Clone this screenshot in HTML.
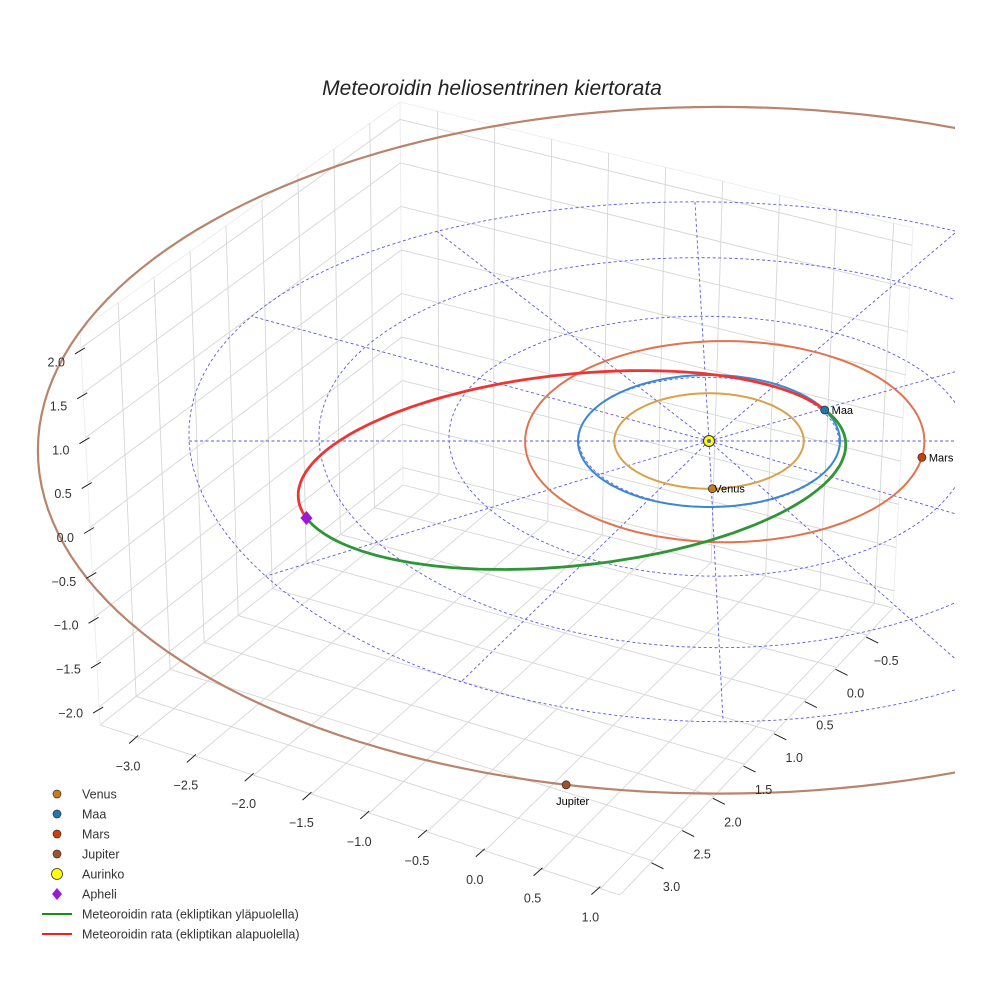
<!DOCTYPE html>
<html><head><meta charset="utf-8"><style>
html,body{margin:0;padding:0;background:#fff;}
svg{display:block;font-family:"Liberation Sans",sans-serif;}
</style></head><body>
<svg id="chart" width="984" height="984" viewBox="0 0 984 984" xmlns="http://www.w3.org/2000/svg">
<defs><clipPath id="axclip"><rect x="0" y="0" width="955" height="984"/></clipPath></defs>
<rect width="984" height="984" fill="#fff"/>
<text x="492" y="95" text-anchor="middle" font-size="21" font-style="italic" fill="#222">Meteoroidin heliosentrinen kiertorata</text>
<g id="box"></g>
<g id="plot" clip-path="url(#axclip)"></g>
<g id="labels"></g>
<g id="legend"></g>
</svg>
<script>
// ---- axis tick data ----
const xTicks=[-3.0,-2.5,-2.0,-1.5,-1.0,-0.5,0.0,0.5,1.0];
const yTicks=[-0.5,0.0,0.5,1.0,1.5,2.0,2.5,3.0];
const zTicks=[-2.0,-1.5,-1.0,-0.5,0.0,0.5,1.0,1.5,2.0];
const xRange=[-3.33,1.17], yRange=[-0.92,3.53], zRange=[-2.2,2.2];
// ---- planets ----
const planetNames=['Venus','Maa','Mars','Jupiter'];
const planetA=[0.723,1.0,1.524,5.203];
const planetCx=[0.0,0.0,0.12,0.08];
const planetCy=[0.0,0.0,0.01,0.14];
const planetAngle=[88,-28,9,103];
const planetColors=['#d9a24a','#3b87d4','#e0744e','#b8846b'];
const planetDot=['#c97a1c','#1f77b4','#c8400c','#a0522d'];
// ---- ecliptic reference grid ----
const gridRadii=[1,2,3,4];
const spokeAngles=[0,30,60,90,120,150,180,210,240,270,300,330];
const spokeLen=4;
// ---- meteoroid orbit ----
const meteorCenter=[-1.046,0.44];
const meteorAxes=[2.10,1.45];
const meteorTilt=[-6];
const meteorSplit=[-20,168];

const NS='http://www.w3.org/2000/svg';
function mk(tag,attrs,parent){const e=document.createElementNS(NS,tag);for(const k in attrs)e.setAttribute(k,attrs[k]);parent.appendChild(e);return e;}
const box=document.getElementById('box'),plot=document.getElementById('plot'),labels=document.getElementById('labels'),legend=document.getElementById('legend');

const B=[403,485],R=[893,608],L=[100,725],F=[620,895];
const Bt=[400,102],Rt=[913,228],Lt=[80,330],Ft=[640,500];
function bil(a,b,c,d,u,v){return [a[0]*(1-u)*(1-v)+b[0]*u*(1-v)+c[0]*(1-u)*v+d[0]*u*v,a[1]*(1-u)*(1-v)+b[1]*u*(1-v)+c[1]*(1-u)*v+d[1]*u*v];}
function P(u,v,w){const f=bil(B,R,L,F,u,v),t=bil(Bt,Rt,Lt,Ft,u,v);return [f[0]*(1-w)+t[0]*w,f[1]*(1-w)+t[1]*w];}
const xu=x=>(x-xRange[0])/(xRange[1]-xRange[0]);
const yv=y=>(y-yRange[0])/(yRange[1]-yRange[0]);
const zw=z=>(z-zRange[0])/(zRange[1]-zRange[0]);
function line(p,q,attrs,parent,name){const e=mk('line',Object.assign({x1:p[0],y1:p[1],x2:q[0],y2:q[1]},attrs),parent);return e;}
const gs={stroke:'#d6d6d6','stroke-width':0.9};
const es={stroke:'#ececec','stroke-width':0.9};
line(P(0,0,0),P(1,0,0),gs,box,'pane-edge');line(P(0,0,0),P(0,1,0),gs,box,'pane-edge');
line(P(0,1,0),P(1,1,0),gs,box,'pane-edge');line(P(1,0,0),P(1,1,0),gs,box,'pane-edge');
line(P(0,0,0),P(0,0,1),es,box,'pane-edge');line(P(0,1,0),P(0,1,1),es,box,'pane-edge');line(P(1,0,0),P(1,0,1),es,box,'pane-edge');
line(P(0,0,1),P(1,0,1),es,box,'pane-edge');line(P(0,0,1),P(0,1,1),es,box,'pane-edge');
xTicks.forEach(x=>{const u=xu(x);
  line(P(u,0,0),P(u,1,0),gs,box,'floor-grid-x');
  line(P(u,0,0),P(u,0,1),gs,box,'back-wall-grid-x');});
yTicks.forEach(y=>{const v=yv(y);
  line(P(0,v,0),P(1,v,0),gs,box,'floor-grid-y');
  line(P(0,v,0),P(0,v,1),gs,box,'side-wall-grid-y');});
zTicks.forEach(z=>{const w=zw(z);
  line(P(0,0,w),P(1,0,w),gs,box,'back-wall-grid-z');
  line(P(0,0,w),P(0,1,w),gs,box,'side-wall-grid-z');});
const ts={stroke:'#222','stroke-width':1};
function lbl(txt,x,y,anchor,name){const t=mk('text',{x:x,y:y,'text-anchor':anchor,'font-size':12.5,fill:'#333'},labels);t.textContent=txt;}
const fmt=v=>(v<0?'\u2212':'')+Math.abs(v).toFixed(1);
xTicks.forEach(x=>{const p=P(xu(x),1,0);line([p[0],p[1]-2],[p[0]-9,p[1]+6],ts,labels,'x-tick');lbl(fmt(x),p[0]-10,p[1]+33,'middle','x-tick-label');});
yTicks.forEach(y=>{const p=P(1,yv(y),0);line([p[0]-1,p[1]+2],[p[0]+11,p[1]+8],ts,labels,'y-tick');lbl(fmt(y),p[0]+19,p[1]+30,'middle','y-tick-label');});
zTicks.forEach(z=>{const w=zw(z);const p=P(0,1,w);line([p[0]+4,p[1]],[p[0]-6,p[1]+6],ts,labels,'z-tick');lbl(fmt(z),p[0]-16,p[1]+10+9*w,'end','z-tick-label');});

const SX=709,SY=441;
const gx=(X,Y)=>SX+130*(X+0.027*Y), gy=(Y)=>SY+65*Y+1.3*Y*Y;
const ox=(X)=>SX+131*X, oy=(Y)=>SY+66*Y;
const rad=d=>d*Math.PI/180;
function polyPath(pts){return 'M'+pts.map(p=>p[0].toFixed(1)+','+p[1].toFixed(1)).join('L');}
const dash={fill:'none',stroke:'#5a5ae6','stroke-width':0.9,'stroke-dasharray':'3,2.5'};
gridRadii.forEach(r=>{const pts=[];for(let t=0;t<=360;t+=3){const X=r*Math.cos(rad(t)),Y=r*Math.sin(rad(t));pts.push([gx(X,Y),gy(Y)]);}
  const e=mk('path',Object.assign({d:polyPath(pts)},dash),plot);});
spokeAngles.forEach(a=>{const X=spokeLen*Math.cos(rad(a)),Y=spokeLen*Math.sin(rad(a));
  const e=mk('line',Object.assign({x1:gx(0,0),y1:gy(0),x2:gx(X,Y),y2:gy(Y)},dash),plot);
  });

planetNames.forEach((n,i)=>{const pts=[];for(let t=0;t<=360;t+=2)pts.push([ox(planetCx[i]+planetA[i]*Math.cos(rad(t))),oy(planetCy[i]+planetA[i]*Math.sin(rad(t)))]);
  const e=mk('path',{d:polyPath(pts),fill:'none',stroke:planetColors[i],'stroke-width':i==3?2.2:2},plot);
  });

const phi=rad(meteorTilt[0]);
function mpt(t){const a=meteorAxes[0]*131*Math.cos(rad(t)),b=meteorAxes[1]*66*Math.sin(rad(t));
  return [ox(meteorCenter[0])+a*Math.cos(phi)-b*Math.sin(phi),oy(meteorCenter[1])+a*Math.sin(phi)+b*Math.cos(phi)];}
let ptsR=[],ptsG=[];
for(let t=meteorSplit[1];t<=360+meteorSplit[0]+0.01;t+=2)ptsR.push(mpt(t));
for(let t=meteorSplit[0];t<=meteorSplit[1]+0.01;t+=2)ptsG.push(mpt(t));
let e=mk('path',{d:polyPath(ptsR),fill:'none',stroke:'#ee3535','stroke-width':2.8},plot);

e=mk('path',{d:polyPath(ptsG),fill:'none',stroke:'#2e9636','stroke-width':2.8},plot);


planetNames.forEach((n,i)=>{const t=rad(planetAngle[i]);const x=ox(planetCx[i]+planetA[i]*Math.cos(t)),y=oy(planetCy[i]+planetA[i]*Math.sin(t));
  const c=mk('circle',{cx:x,cy:y,r:4,fill:planetDot[i],stroke:'#333','stroke-width':0.8},plot);
  
  const dx=n=='Jupiter'?-10:(n=='Venus'?2:7),dy=n=='Jupiter'?20:4;
  const tx=mk('text',{x:x+dx,y:y+dy,'font-size':11,fill:'#000'},plot);tx.textContent=n;
  });
e=mk('circle',{cx:SX,cy:SY,r:5.5,fill:'#ffff00',stroke:'#333','stroke-width':1},plot);

e=mk('circle',{cx:SX,cy:SY,r:2,fill:'#5566cc'},plot);

const ap=mpt(meteorSplit[1]);
e=mk('path',{d:`M${ap[0]},${ap[1]-7}L${ap[0]+6},${ap[1]}L${ap[0]},${ap[1]+7}L${ap[0]-6},${ap[1]}Z`,fill:'#9b19d6'},plot);


const legNames=['Venus','Maa','Mars','Jupiter','Aurinko','Apheli','Meteoroidin rata (ekliptikan yläpuolella)','Meteoroidin rata (ekliptikan alapuolella)'];
legNames.forEach((n,i)=>{const y=794+i*20;
  let m;
  if(i<4){m=mk('circle',{cx:57,cy:y,r:4,fill:planetDot[i],stroke:'#333','stroke-width':0.7},legend);}
  else if(i==4){m=mk('circle',{cx:57,cy:y,r:5.5,fill:'#ffff00',stroke:'#333','stroke-width':0.8},legend);}
  else if(i==5){m=mk('path',{d:`M57,${y-6}L62,${y}L57,${y+6}L52,${y}Z`,fill:'#9b19d6'},legend);}
  else {m=mk('line',{x1:42,y1:y,x2:72,y2:y,stroke:i==6?'#1a8c1a':'#ee2020','stroke-width':2},legend);}
  
  const t=mk('text',{x:82,y:y+4.5,'font-size':12.5,fill:'#333'},legend);t.textContent=n;
  });
</script>
</body></html>
